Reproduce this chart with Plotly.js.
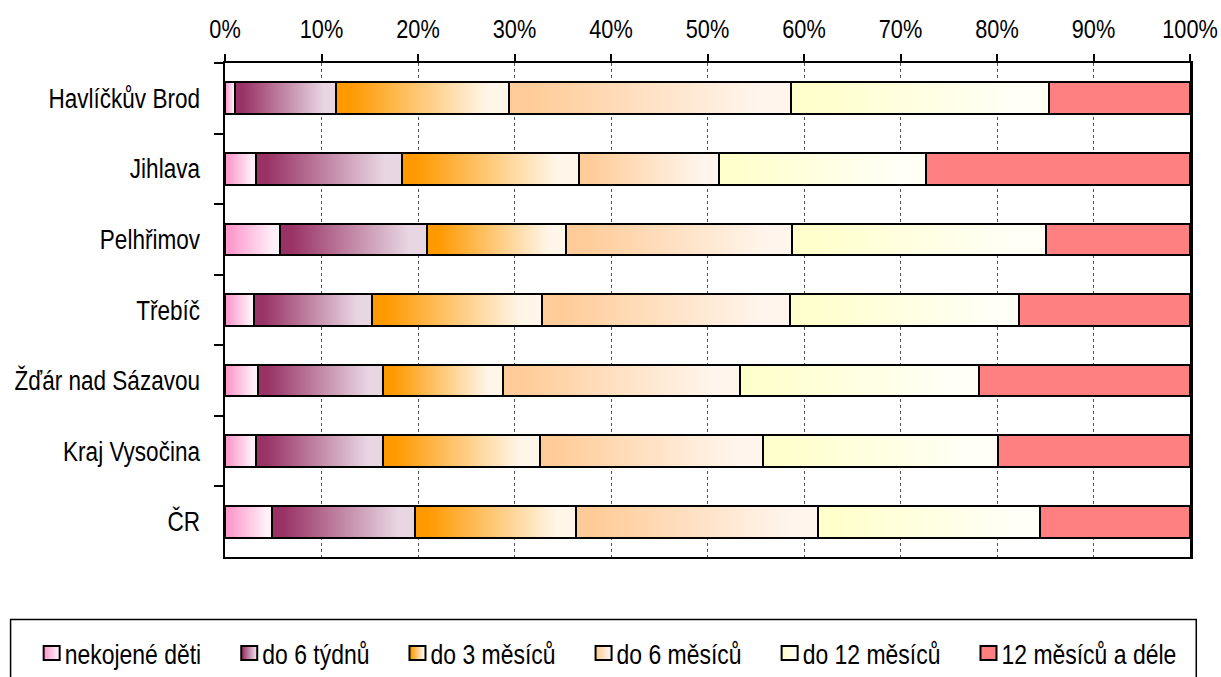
<!DOCTYPE html>
<html>
<head>
<meta charset="utf-8">
<script src="https://cdn.plot.ly/plotly-3.0.1.min.js"></script>
<style>
html,body{margin:0;padding:0;background:#fff;}
#chart{width:1221px;height:677px;}
</style>
</head>
<body>
<div id="chart"></div>
<script>
// ---- data ----
const categories = ["Havlíčkův Brod", "Jihlava", "Pelhřimov", "Třebíč", "Žďár nad Sázavou", "Kraj Vysočina", "ČR"];
const seriesNames = ["nekojené děti", "do 6 týdnů", "do 3 měsíců", "do 6 měsíců", "do 12 měsíců", "12 měsíců a déle"];
const nekojene   = [1.0, 3.2, 5.7, 3.0, 3.4, 3.2, 4.9];
const do6tydnu   = [10.5, 15.1, 15.2, 12.2, 13.0, 13.2, 14.8];
const do3mesicu  = [17.9, 18.4, 14.4, 17.7, 12.4, 16.2, 16.7];
const do6mesicu  = [29.3, 14.5, 23.5, 25.7, 24.6, 23.2, 25.1];
const do12mesicu = [26.7, 21.4, 26.3, 23.7, 24.7, 24.3, 23.0];
const nad12      = [14.6, 27.4, 14.9, 17.7, 21.9, 19.9, 15.5];
const tickVals   = [0, 10, 20, 30, 40, 50, 60, 70, 80, 90, 100];
const tickText   = ["0%", "10%", "20%", "30%", "40%", "50%", "60%", "70%", "80%", "90%", "100%"];

// ---- styles ----
const values = [nekojene, do6tydnu, do3mesicu, do6mesicu, do12mesicu, nad12];
const gradStart = ["#FF99CC", "#993366", "#FF9900", "#FFCC99", "#FFFFCC", "#FF8080"];
const gradEnd   = ["#FFF0F8", "#E8D6E2", "#FFF6E9", "#FFF5EC", "#FFFFF6", "#FF8080"];
const baseCol   = ["#FFC4E2", "#C08AA6", "#FFC480", "#FFE0C2", "#FFFFE0", "#FF8080"];
const FONT = "'Liberation Sans', Arial, sans-serif";
const NARROW = 0.82; // horizontal condensing to imitate Arial Narrow

const traces = values.map((v, i) => ({
  type: "bar",
  orientation: "h",
  name: seriesNames[i],
  x: v,
  y: categories,
  marker: {color: baseCol[i], line: {color: "#000", width: 2}},
  hoverinfo: "skip"
}));

const layout = {
  width: 1221, height: 677,
  margin: {l: 225, r: 31, t: 63, b: 120, pad: 0, autoexpand: false},
  paper_bgcolor: "#fff", plot_bgcolor: "#fff",
  barmode: "stack",
  bargap: 0.55,
  font: {family: FONT, size: 26, color: "#000"},
  showlegend: true,
  legend: {
    orientation: "h",
    x: 0.5, xanchor: "center", xref: "container",
    y: 0.037, yanchor: "middle", yref: "container",
    font: {family: FONT, size: 28, color: "#000"},
    itemwidth: 30,
    bgcolor: "rgba(0,0,0,0)",
    borderwidth: 0,
    traceorder: "normal"
  },
  xaxis: {
    side: "top",
    range: [0, 100],
    tickvals: tickVals,
    ticktext: tickText,
    ticks: "outside", ticklen: 7, tickwidth: 2, tickcolor: "#000",
    showline: true, linecolor: "#000", linewidth: 2, mirror: true,
    showgrid: true, gridcolor: "#555", gridwidth: 1, griddash: "dot",
    zeroline: false,
    ticklabeloverflow: "allow",
    ticklabelstandoff: 5,
    tickfont: {family: FONT, size: 26.5},
    fixedrange: true
  },
  yaxis: {
    type: "category",
    autorange: "reversed",
    tickson: "boundaries",
    ticks: "outside", ticklen: 9, tickwidth: 2, tickcolor: "#000",
    showline: true, linecolor: "#000", linewidth: 2.5, mirror: true,
    showgrid: false, zeroline: false,
    ticklabelstandoff: 17,
    tickfont: {family: FONT, size: 27.5},
    fixedrange: true
  },
  shapes: [{
    type: "rect", xref: "paper", yref: "paper",
    x0: -0.2222, x1: 1.0065, y0: -0.3, y1: -0.1267,
    line: {color: "#000", width: 1.5}, fillcolor: "rgba(0,0,0,0)", layer: "below"
  }]
};

function condense(el, sx) {
  const x = parseFloat(el.getAttribute("x")) || 0;
  const y = parseFloat(el.getAttribute("y")) || 0;
  const t = el.getAttribute("transform") || "";
  el.setAttribute("transform", t + " translate(" + x + "," + y + ") scale(" + sx + ",1) translate(" + (-x) + "," + (-y) + ")");
}

Plotly.newPlot("chart", traces, layout, {staticPlot: true, displayModeBar: false}).then(gd => {
  const ns = "http://www.w3.org/2000/svg";
  const svgs = gd.querySelectorAll("svg.main-svg");
  svgs.forEach((svg, si) => {
    let defs = svg.querySelector("defs");
    if (!defs) { defs = document.createElementNS(ns, "defs"); svg.insertBefore(defs, svg.firstChild); }
    gradStart.forEach((c, i) => {
      const lg = document.createElementNS(ns, "linearGradient");
      lg.setAttribute("id", "grad" + si + "_" + i);
      lg.setAttribute("x1", "0"); lg.setAttribute("y1", "0");
      lg.setAttribute("x2", "1"); lg.setAttribute("y2", "0");
      [[0, c], [0.08, c], [0.88, gradEnd[i]], [1, gradEnd[i]]].forEach(([o, col]) => {
        const st = document.createElementNS(ns, "stop");
        st.setAttribute("offset", o);
        st.setAttribute("stop-color", col);
        lg.appendChild(st);
      });
      defs.appendChild(lg);
    });
  });
  // bars
  gd.querySelectorAll(".barlayer .trace.bars").forEach((tr, i) => {
    tr.querySelectorAll("path").forEach(p => { p.style.fill = "url(#grad0_" + i + ")"; });
  });
  // axis labels condensed
  gd.querySelectorAll(".xtick text, .ytick text").forEach(t => condense(t, NARROW));

  // legend: gradient symbols, tight symbol/text spacing, wider gaps between entries
  const legend = gd.querySelector(".legend");
  if (legend) {
    const legIdx = Array.from(svgs).indexOf(legend.ownerSVGElement);
    const sb = legend.querySelector(".scrollbox");
    if (sb) { sb.removeAttribute("clip-path"); }
    const items = legend.querySelectorAll(".traces");
    let cur = 0, y0 = null;
    items.forEach((tr, i) => {
      tr.querySelectorAll(".legendpoints path").forEach(p => {
        p.style.fill = "url(#grad" + legIdx + "_" + i + ")";
        p.style.stroke = "#000";
        p.style.strokeWidth = "2px";
        p.setAttribute("d", "M-8,-7H8V7H-8Z");
        p.setAttribute("transform", "translate(8,0)");
      });
      const txt = tr.querySelector("text.legendtext");
      let w = 0;
      if (txt) {
        txt.setAttribute("x", 21);
        txt.querySelectorAll("tspan").forEach(t => { if (t.hasAttribute("x")) t.setAttribute("x", 21); });
        w = txt.getComputedTextLength() * NARROW;
        condense(txt, NARROW);
      }
      const m = /translate\(\s*([-\d.]+)[ ,]+([-\d.]+)/.exec(tr.getAttribute("transform") || "");
      if (y0 === null) y0 = m ? parseFloat(m[2]) : 0;
      tr.setAttribute("transform", "translate(" + cur + "," + y0 + ")");
      cur += 21 + w + 40;
    });
    const total = cur - 40;
    const lm = /translate\(\s*([-\d.]+)[ ,]+([-\d.]+)/.exec(legend.getAttribute("transform") || "");
    let ly = lm ? parseFloat(lm[2]) : 0;
    legend.setAttribute("transform", "translate(" + (610 - total / 2) + "," + ly + ")");
    // vertically centre the legend row at y = 652
    const sym = legend.querySelector(".legendpoints path");
    if (sym) {
      const r = sym.getBoundingClientRect();
      const gr = gd.getBoundingClientRect();
      const c = r.top + r.height / 2 - gr.top;
      ly += 653 - c;
      legend.setAttribute("transform", "translate(" + (610 - total / 2) + "," + ly + ")");
    }
  }
});
</script>
</body>
</html>
